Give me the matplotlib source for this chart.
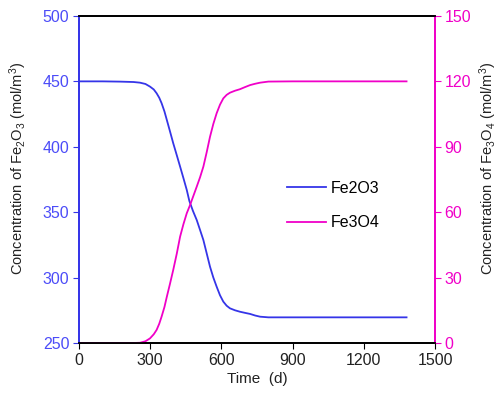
import matplotlib
matplotlib.use("Agg")
import matplotlib.pyplot as plt

plt.rcParams['font.family'] = ['Liberation Sans', 'DejaVu Sans']
plt.rcParams['mathtext.fontset'] = 'custom'
plt.rcParams['mathtext.rm'] = 'Liberation Sans'
plt.rcParams['mathtext.it'] = 'Liberation Sans:italic'
plt.rcParams['mathtext.bf'] = 'Liberation Sans:bold'

time_fe2o3 = [0, 100, 173, 230, 257, 280, 299, 315, 327, 338, 348, 360, 370, 383, 397, 412, 426, 440,
              454, 465, 480, 496, 510, 524, 538, 552, 566, 580, 594, 608, 622, 636, 657, 678, 700,
              721, 742, 763, 798, 900, 1100, 1380]
fe2o3 = [450, 450, 449.8, 449.5, 449.0, 448.0, 446.0, 443.8, 440.9, 437.5, 433.3, 427.0, 420.5, 412.0,
         402.7, 393.5, 384.8, 376.0, 367.0, 358.5, 351.0, 344.0, 336.4, 328.7, 318.5, 308.3, 300.0,
         293.0, 286.5, 281.6, 278.5, 276.5, 275.0, 273.9, 273.0, 272.2, 271.0, 270.1, 269.6, 269.6,
         269.6, 269.6]

time_fe3o4 = [0, 100, 173, 230, 257, 280, 299, 315, 327, 338, 348, 360, 370, 383, 397, 412, 426, 440,
              454, 468, 482, 496, 510, 524, 538, 552, 566, 580, 594, 608, 622, 636, 657, 678, 700,
              721, 742, 763, 798, 900, 1100, 1380]
fe3o4 = [0, 0, 0, 0, 0.1, 0.8, 2.1, 4.0, 6.0, 8.8, 12.1, 16.5, 21.2, 27.0, 33.5, 41.0, 48.8, 54.5,
         59.5, 63.3, 67.5, 71.7, 76.0, 80.9, 87.5, 94.6, 100.5, 105.4, 109.3, 112.2, 113.8, 114.8,
         115.7, 116.4, 117.4, 118.3, 118.9, 119.4, 119.9, 120, 120, 120]

x_ticks = [0, 300, 600, 900, 1200, 1500]
left_ticks = [250, 300, 350, 400, 450, 500]
right_ticks = [0, 30, 60, 90, 120, 150]

blue = '#3535e8'
blue_txt = '#4c4cf8'
mag = '#f000c8'

fig = plt.figure(figsize=(5.01, 3.99), dpi=100)
ax = fig.add_axes([0.1577, 0.1404, 0.7106, 0.8196])
ax2 = ax.twinx()

l1, = ax.plot(time_fe2o3, fe2o3, color=blue, lw=1.3, label='Fe2O3')
l2, = ax2.plot(time_fe3o4, fe3o4, color=mag, lw=1.3, label='Fe3O4')

ax.set_xlim(0, 1500)
ax.set_ylim(250, 500)
ax2.set_ylim(0, 150)
ax.set_xticks(x_ticks)
ax.set_yticks(left_ticks)
ax2.set_yticks(right_ticks)

fs = 11.5
ax.tick_params(axis='x', direction='out', length=4, labelsize=fs, colors='black', labelcolor='#222222', pad=3)
ax.tick_params(axis='y', direction='out', length=4, labelsize=fs, colors=blue, labelcolor=blue_txt, pad=3)
ax2.tick_params(axis='y', direction='out', length=4, labelsize=fs, colors=mag, labelcolor=mag, pad=3)

for a in (ax, ax2):
    a.spines['left'].set_color(blue)
    a.spines['right'].set_color(mag)
    a.spines['top'].set_color('black')
    a.spines['bottom'].set_color('black')
    for s in a.spines.values():
        s.set_linewidth(1.3)

ax.set_xlabel('Time  (d)', fontsize=11, color='#222222', labelpad=3)
ax.set_ylabel('Concentration of Fe$_2$O$_3$ (mol/m$^3$)', fontsize=10.5, color='#222222')
ax2.set_ylabel('Concentration of Fe$_3$O$_4$ (mol/m$^3$)', fontsize=10.5, color='#222222')
ax.yaxis.set_label_coords(-0.14, 0.535)
ax2.yaxis.set_label_coords(1.118, 0.535)

ax.legend([l1, l2], ['Fe2O3', 'Fe3O4'], loc='center left', bbox_to_anchor=(0.545, 0.42),
          frameon=False, fontsize=11.5, handlelength=2.4, labelspacing=1.2, handletextpad=0.3)

fig.savefig('out.png', dpi=100)
